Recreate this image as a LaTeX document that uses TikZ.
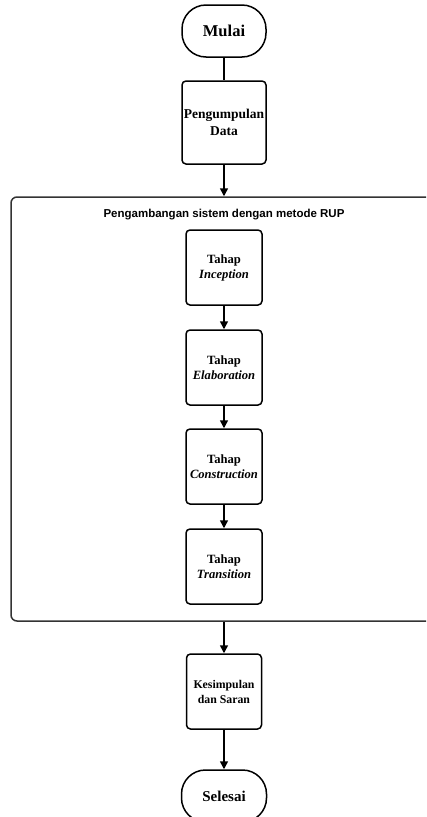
\documentclass[tikz,border=0pt]{standalone}
\usepackage{fontspec}
\setmainfont{Liberation Serif}
\newfontfamily\titlefont{Liberation Sans}
\usetikzlibrary{arrows.meta}
\tikzset{
  line/.style={line width=1.5pt, draw=black},
  arr/.style={line, -{Triangle[length=8pt,width=8pt]}},
  terminal/.style={line, rounded corners=24pt, minimum width=84pt, minimum height=52pt, inner sep=0pt, align=center, font=\bfseries\fontsize{16.5}{19}\selectfont},
  procbox/.style={line, rounded corners=4pt, inner sep=0pt, align=center},
  stagebox/.style={procbox, minimum width=76pt, minimum height=75pt, font=\bfseries\fontsize{12.6}{15}\selectfont},
  groupbox/.style={line width=1.5pt, draw=black!80, rounded corners=6pt, inner sep=0pt}
}
\begin{document}
\begin{tikzpicture}[x=1pt,y=-1pt]
\clip (0,0) rectangle (426,817);
\fill[white] (0,0) rectangle (426,817);
% container
\node[groupbox, minimum width=429pt, minimum height=424pt] (cont) at (225.5,409) {};
\node[font=\titlefont\bfseries\fontsize{11.5}{14}\selectfont] (title) at (224,215) {Pengambangan sistem dengan metode RUP};
% terminals and boxes
\node[terminal] (mulai) at (224,31) {Mulai};
\node[procbox, minimum width=84pt, minimum height=83pt, font=\bfseries\fontsize{13.5}{16.5}\selectfont] (pd) at (224,122.5) {Pengumpulan\\Data};
\node[stagebox] (inc) at (224,267.5) {Tahap\\\textit{Inception}};
\node[stagebox] (ela) at (224,367.5) {Tahap\\\textit{Elaboration}};
\node[stagebox] (con) at (224,466.5) {Tahap\\\textit{Construction}};
\node[stagebox] (tra) at (224,566.5) {Tahap\\\textit{Transition}};
\node[procbox, minimum width=75pt, minimum height=75pt, font=\bfseries\fontsize{11.8}{15}\selectfont] (ks) at (224,691.5) {Kesimpulan\\dan Saran};
\node[terminal, minimum width=85pt, font=\bfseries\fontsize{15}{18}\selectfont] (selesai) at (224,796) {Selesai};
% connectors
\draw[line] (mulai) -- (pd);
\draw[arr] (pd.south) -- (pd.south |- cont.north);
\draw[arr] (inc) -- (ela);
\draw[arr] (ela) -- (con);
\draw[arr] (con) -- (tra);
\draw[arr] (cont.south -| ks.north) -- (ks.north);
\draw[arr] (ks) -- (selesai);
\end{tikzpicture}
\end{document}
